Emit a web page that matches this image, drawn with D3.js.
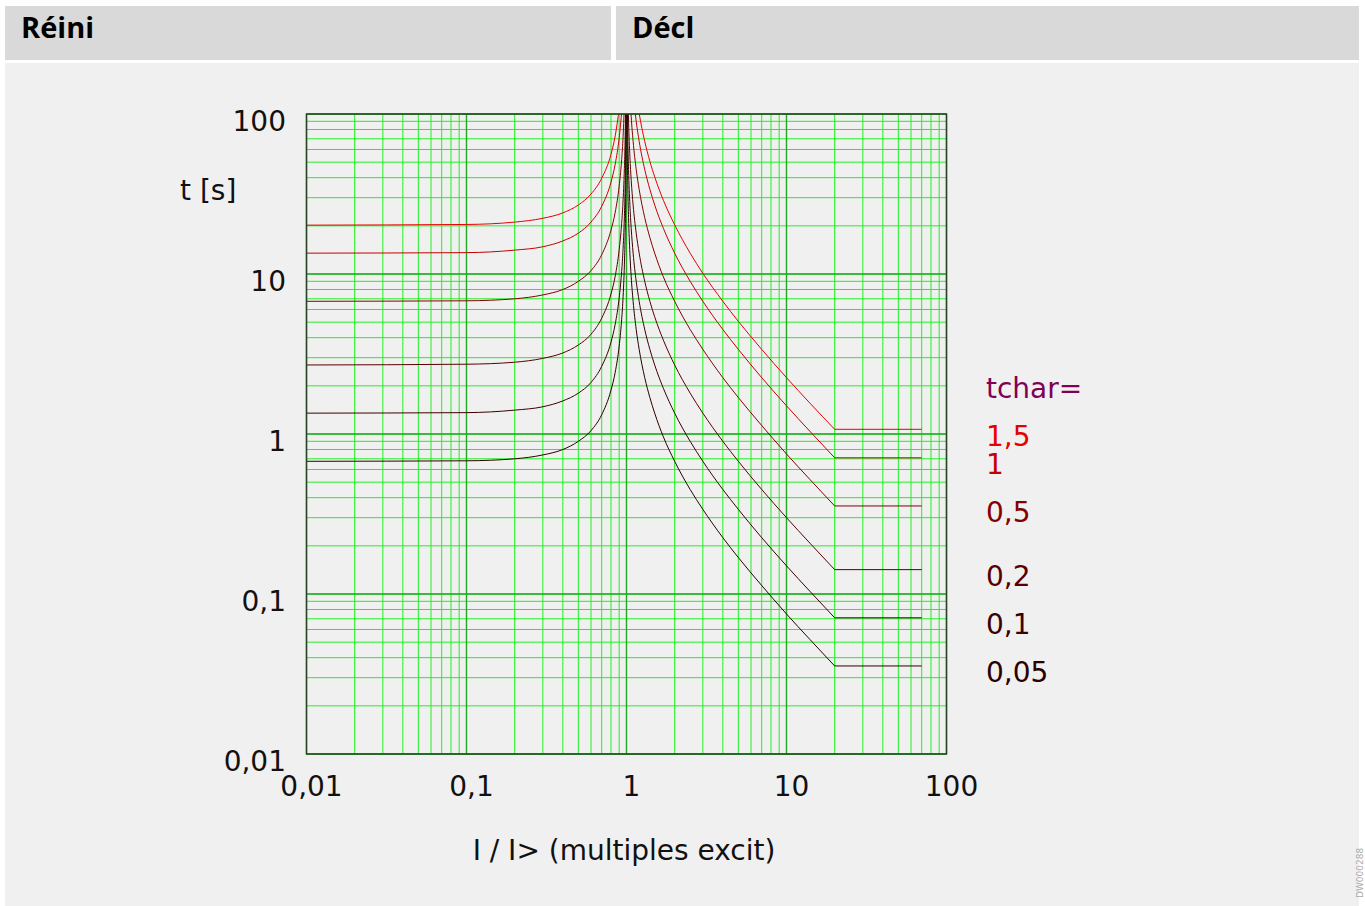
<!DOCTYPE html>
<html>
<head>
<meta charset="utf-8">
<script src="https://cdn.jsdelivr.net/npm/d3@7"></script>
<style>
body { margin: 0; background: #fff; }
svg { display: block; font-family: "DejaVu Sans", sans-serif; }
</style>
</head>
<body>
<svg id="chart" width="1365" height="906"></svg>
<script>
// axes
var xTickVals = [0.01, 0.1, 1, 10, 100];
var xTickLabels = ["0,01", "0,1", "1", "10", "100"];
var yTickVals = [0.01, 0.1, 1, 10, 100];
var yTickLabels = ["0,01", "0,1", "1", "10", "100"];

// tchar series
var tcharVals = [1.5, 1, 0.5, 0.2, 0.1, 0.05];
var tcharLabels = ["1,5", "1", "0,5", "0,2", "0,1", "0,05"];
var tcharColors = ["#e60000", "#c40000", "#850000", "#580000", "#3c0000", "#2a0000"];

// reset side (I < 1), times
var resetI = [0.01, 0.1, 0.2, 0.3, 0.4, 0.5, 0.6, 0.7, 0.8, 0.85, 0.9, 0.93, 0.95, 0.97, 0.98, 0.99, 0.995, 0.998];
var resetT_15 = [20.2, 20.4, 21.1, 22.3, 24.1, 27, 31.6, 39.7, 56, 73, 107];
var resetT_1 = [13.5, 13.6, 14.1, 14.8, 16.1, 18, 21.1, 26.5, 37.5, 48.6, 71, 100, 138];
var resetT_05 = [6.75, 6.8, 7.0, 7.4, 8.0, 9.0, 10.5, 13.2, 18.8, 24.3, 35.5, 50, 69, 114];
var resetT_02 = [2.7, 2.73, 2.81, 2.97, 3.21, 3.6, 4.2, 5.3, 7.5, 9.7, 14.2, 20, 27.7, 45.7, 68, 136];
var resetT_01 = [1.35, 1.36, 1.41, 1.48, 1.61, 1.8, 2.1, 2.65, 3.75, 4.86, 7.1, 10, 13.8, 22.8, 34, 68, 135];
var resetT_005 = [0.675, 0.68, 0.70, 0.74, 0.80, 0.90, 1.05, 1.32, 1.88, 2.43, 3.55, 5.0, 6.9, 11.4, 17, 34, 68, 169];

// trip side (I > 1), each array lines up with the END of tripI
var tripI = [1.005, 1.01, 1.02, 1.03, 1.05, 1.07, 1.1, 1.15, 1.2, 1.3, 1.4, 1.5, 1.7, 2, 2.5, 3, 4, 5, 7, 10, 14, 20, 70];
var tripT_15 = [135, 101, 67.5, 50.6, 40.5, 28.9, 20.3, 13.5, 10.1, 6.75, 5.06, 3.38, 2.25, 1.56, 1.07, 1.07];
var tripT_1 = [135, 90, 67.5, 45, 33.8, 27, 19.3, 13.5, 9, 6.75, 4.5, 3.38, 2.25, 1.5, 1.04, 0.71, 0.71];
var tripT_05 = [135, 96, 67.5, 45, 33.8, 22.5, 16.9, 13.5, 9.6, 6.75, 4.5, 3.38, 2.25, 1.69, 1.13, 0.75, 0.52, 0.355, 0.355];
var tripT_02 = [135, 90, 54, 38.6, 27, 18, 13.5, 9, 6.75, 5.4, 3.86, 2.7, 1.8, 1.35, 0.9, 0.675, 0.45, 0.3, 0.208, 0.142, 0.142];
var tripT_01 = [135, 67.5, 45, 27, 19.3, 13.5, 9, 6.75, 4.5, 3.38, 2.7, 1.93, 1.35, 0.9, 0.675, 0.45, 0.338, 0.225, 0.15, 0.104, 0.071, 0.071];
var tripT_005 = [135, 67.5, 33.8, 22.5, 13.5, 9.6, 6.75, 4.5, 3.38, 2.25, 1.69, 1.35, 0.96, 0.675, 0.45, 0.338, 0.225, 0.169, 0.113, 0.075, 0.052, 0.0355, 0.0355];

var resetSets = [resetT_15, resetT_1, resetT_05, resetT_02, resetT_01, resetT_005];
var tripSets = [tripT_15, tripT_1, tripT_05, tripT_02, tripT_01, tripT_005];

var svg = d3.select("#chart");

// header + panel
svg.append("rect").attr("x", 5).attr("y", 63).attr("width", 1354).attr("height", 843).attr("fill", "#f0f0f0");
svg.append("rect").attr("x", 5).attr("y", 6).attr("width", 606).attr("height", 54).attr("fill", "#d9d9d9");
svg.append("rect").attr("x", 616).attr("y", 6).attr("width", 743).attr("height", 54).attr("fill", "#d9d9d9");
svg.append("text").attr("x", 21).attr("y", 38).text("Réini")
    .attr("font-family", "'Open Sans', sans-serif").attr("font-weight", "bold").attr("font-size", 29).attr("fill", "#000");
svg.append("text").attr("x", 632).attr("y", 38).text("Décl")
    .attr("font-family", "'Open Sans', sans-serif").attr("font-weight", "bold").attr("font-size", 29).attr("fill", "#000");

var x = d3.scaleLog().domain([0.01, 100]).range([306.5, 946.5]);
var y = d3.scaleLog().domain([0.01, 100]).range([754, 114]);

var grid = svg.append("g");
// minor grid
grid.selectAll("line.vx").data(x.ticks()).enter().append("line")
    .attr("x1", function(d) { return x(d); }).attr("x2", function(d) { return x(d); })
    .attr("y1", 114).attr("y2", 754)
    .attr("stroke", "#22f022").attr("stroke-width", 1);
grid.selectAll("line.hy").data(y.ticks()).enter().append("line")
    .attr("y1", function(d) { return y(d); }).attr("y2", function(d) { return y(d); })
    .attr("x1", 306.5).attr("x2", 946.5)
    .attr("stroke", "#22f022").attr("stroke-width", 1);
// decade lines
grid.selectAll("line.mx").data(xTickVals).enter().append("line")
    .attr("x1", function(d) { return x(d); }).attr("x2", function(d) { return x(d); })
    .attr("y1", 114).attr("y2", 754)
    .attr("stroke", "#22a822").attr("stroke-width", 1.4);
grid.selectAll("line.my").data(yTickVals).enter().append("line")
    .attr("y1", function(d) { return y(d); }).attr("y2", function(d) { return y(d); })
    .attr("x1", 306.5).attr("x2", 946.5)
    .attr("stroke", "#22a822").attr("stroke-width", 1.4);

svg.append("clipPath").attr("id", "plotclip").append("rect")
    .attr("x", 306.5).attr("y", 114).attr("width", 640).attr("height", 640);

var curves = svg.append("g").attr("clip-path", "url(#plotclip)");
var smooth = d3.line().x(function(d) { return x(d[0]); }).y(function(d) { return y(d[1]); }).curve(d3.curveMonotoneX);

tcharVals.forEach(function(tc, k) {
    var rt = resetSets[k];
    var rpts = rt.map(function(t, i) { return [resetI[i], t]; });
    curves.append("path").attr("d", smooth(rpts))
        .attr("fill", "none").attr("stroke", tcharColors[k]).attr("stroke-width", 1);

    var tt = tripSets[k];
    var off = tripI.length - tt.length;
    var tpts = tt.map(function(t, i) { return [tripI[off + i], t]; });
    var last = tpts[tpts.length - 1];
    curves.append("path")
        .attr("d", smooth(tpts.slice(0, -1)) + "L" + x(last[0]) + "," + y(last[1]))
        .attr("fill", "none").attr("stroke", tcharColors[k]).attr("stroke-width", 1);
});

// frame
svg.append("rect").attr("x", 306.5).attr("y", 114).attr("width", 640).attr("height", 640)
    .attr("fill", "none").attr("stroke", "#244424").attr("stroke-width", 1.4);

// tick labels
svg.selectAll("text.xt").data(xTickVals).enter().append("text")
    .attr("x", function(d) { return x(d) + 5; }).attr("y", 796)
    .attr("text-anchor", "middle").attr("font-size", 28).attr("fill", "#111")
    .text(function(d, i) { return xTickLabels[i]; });
svg.selectAll("text.yt").data(yTickVals).enter().append("text")
    .attr("x", 286).attr("y", function(d) { return y(d) + 17; })
    .attr("text-anchor", "end").attr("font-size", 28).attr("fill", "#111")
    .text(function(d, i) { return yTickLabels[i]; });

svg.append("text").attr("x", 180).attr("y", 200).attr("font-size", 28).attr("fill", "#111").text("t [s]");
svg.append("text").attr("x", 624).attr("y", 860).attr("text-anchor", "middle")
    .attr("font-size", 28).attr("fill", "#111").text("I / I> (multiples excit)");

// tchar legend next to the plateaus
svg.append("text").attr("x", 986).attr("y", 398).attr("font-size", 28).attr("fill", "#7f0055").text("tchar=");
tcharVals.forEach(function(tc, k) {
    var tt = tripSets[k];
    svg.append("text").attr("x", 986).attr("y", y(tt[tt.length - 1]) + 16.5)
        .attr("font-size", 28).attr("fill", tcharColors[k]).text(tcharLabels[k]);
});

// small rotated id in the corner
svg.append("text").attr("transform", "translate(1363,898) rotate(-90)")
    .attr("font-size", 9).attr("fill", "#aaa").text("DW000288");
</script>
</body>
</html>
